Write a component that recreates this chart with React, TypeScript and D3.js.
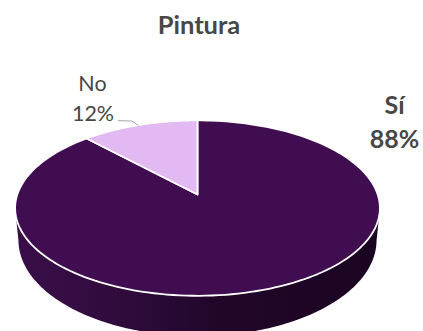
import React from "react";
import * as d3 from "d3";

const categories = ["Sí", "No"];
const shares = [88, 12];
const sliceColors = ["#400d50", "#e2b9f3"];
const chartTitle = "Pintura";

const WIDTH = 423;
const HEIGHT = 331;
const FONT = "Lato, 'Open Sans', sans-serif";
const TEXT = "#474747";

// Perspective projection of the pie's disc; k sets how strongly the far edge recedes.
type Disc = { cx: number; cy: number; rx: number; ry: number; k: number };
const topDisc: Disc = { cx: 197.5, cy: 194.5, rx: 180.2, ry: 85.6, k: 0.155 };
const baseDisc: Disc = { cx: 197.5, cy: 225.2, rx: 176.9, ry: 93.7, k: 0.155 };

const project = (d: Disc, a: number): [number, number] => {
  const w = 1 + d.k * Math.cos(a);
  return [d.cx + (d.rx * Math.sin(a)) / w, d.cy - (d.ry * Math.cos(a)) / w];
};

const line = d3.line<[number, number]>().curve(d3.curveLinear);

const rimPoints = (d: Disc, a0: number, a1: number): [number, number][] =>
  d3.range(0, 181).map((i) => project(d, a0 + ((a1 - a0) * i) / 180));

export default function App() {
  const slices = d3
    .pie<number>()
    .sort(null)
    .value((v) => v)(shares);

  // The wall spans the front half of the rim, between the disc's widest points.
  const wallStart = Math.PI / 2 + 0.16;
  const wallEnd = (3 * Math.PI) / 2 - 0.16;
  const wall = [
    ...rimPoints(topDisc, wallStart, wallEnd),
    ...rimPoints(baseDisc, wallStart, wallEnd).reverse(),
  ];

  return (
    <svg
      width={WIDTH}
      height={HEIGHT}
      viewBox={`0 0 ${WIDTH} ${HEIGHT}`}
      style={{ position: "fixed", left: 0, top: 0, background: "#fff" }}
    >
      <defs>
        <linearGradient id="wallShade" x1="0" x2="1" y1="0" y2="0">
          <stop offset="0" stopColor="#3a0e49" />
          <stop offset="0.3" stopColor="#2f0b3c" />
          <stop offset="0.55" stopColor="#210629" />
          <stop offset="1" stopColor="#1b0422" />
        </linearGradient>
      </defs>

      <path d={line(wall) + "Z"} fill="url(#wallShade)" />

      {slices.map((s, i) => {
        const rim = rimPoints(topDisc, s.startAngle, s.endAngle);
        return (
          <path
            key={categories[i]}
            d={line([[topDisc.cx, topDisc.cy], ...rim]) + "Z"}
            fill={sliceColors[i]}
            stroke="#fff"
            strokeWidth={1.8}
            strokeLinejoin="round"
          />
        );
      })}

      <polyline
        points="118,120.7 132,121 138.5,125.5"
        fill="none"
        stroke="#a6a6a6"
        strokeWidth={1}
      />

      <text x={199} y={34} textAnchor="middle" fontFamily={FONT} fontSize={25.5} fontWeight={700} fill={TEXT}>
        {chartTitle}
      </text>

      <text x={92.5} y={91} textAnchor="middle" fontFamily={FONT} fontSize={21.5} fill={TEXT}>
        {categories[1]}
      </text>
      <text x={93} y={121} textAnchor="middle" fontFamily={FONT} fontSize={21.5} fill={TEXT}>
        {shares[1]}%
      </text>

      <text x={394.5} y={114} textAnchor="middle" fontFamily={FONT} fontSize={25} fontWeight={700} fill={TEXT}>
        {categories[0]}
      </text>
      <text x={394.5} y={148} textAnchor="middle" fontFamily={FONT} fontSize={25} fontWeight={700} fill={TEXT}>
        {shares[0]}%
      </text>
    </svg>
  );
}
